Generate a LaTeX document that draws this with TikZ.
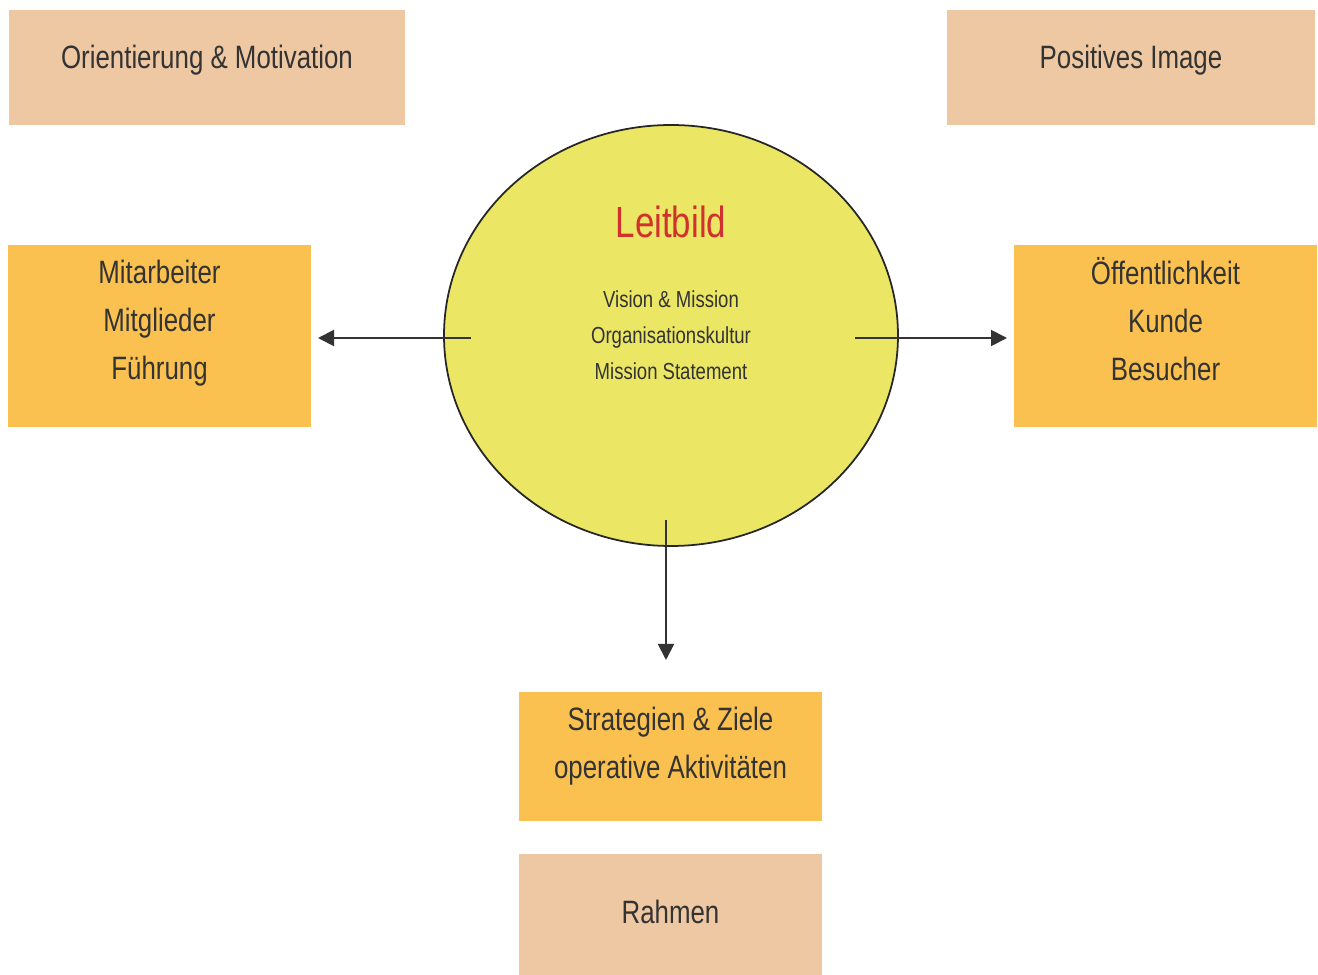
\documentclass[tikz,border=0pt]{standalone}
\usepackage{fontspec}
\setmainfont{Liberation Sans}[FakeStretch=0.8]
\usetikzlibrary{arrows.meta,positioning,shapes.geometric}
\definecolor{peach}{HTML}{EEC8A2}
\definecolor{amber}{HTML}{FAC150}
\definecolor{lemon}{HTML}{EBE664}
\definecolor{leitred}{HTML}{D0312D}
\definecolor{ink}{HTML}{333333}
\tikzset{
  peachbox/.style={rectangle, fill=peach, inner sep=0pt},
  amberbox/.style={rectangle, fill=amber, inner sep=0pt},
  boxtext/.style={text=ink, align=center, font=\fontsize{9.2}{13.7}\selectfont},
  smalltext/.style={text=ink, align=center, font=\fontsize{6.6}{10.3}\selectfont},
  leitarrow/.style={draw=ink, line width=0.55pt, -{Triangle[length=0.16cm,width=0.16cm]}}
}
\begin{document}
\begin{tikzpicture}
\useasboundingbox (0,0) rectangle (13.18,9.75);
%the boxes at the top
\node[peachbox, minimum width=3.96cm, minimum height=1.15cm] (orient) at (2.07,9.075) {};
\node[peachbox, minimum width=3.68cm, minimum height=1.15cm] (image) at (11.31,9.075) {};
%the boxes beside and below the circle
\node[amberbox, minimum width=3.03cm, minimum height=1.82cm] (mitarb) at (1.595,6.39) {};
\node[amberbox, minimum width=3.03cm, minimum height=1.82cm] (oeff) at (11.655,6.39) {};
\node[amberbox, minimum width=3.03cm, minimum height=1.29cm] (strat) at (6.705,2.185) {};
\node[peachbox, minimum width=3.03cm, minimum height=1.21cm] (rahmen) at (6.705,0.605) {};
%the circle
\node[ellipse, draw=black!85, line width=0.5pt, fill=lemon, minimum width=4.54cm, minimum height=4.21cm, inner sep=0pt] (leit) at (6.71,6.395) {};
\node[text=leitred, font=\fontsize{12.4}{15}\selectfont] (leittitle) at (6.71,7.53) {Leitbild};
\node[smalltext] (leitlist) at (6.71,6.40) {Vision \& Mission\\Organisationskultur\\Mission Statement};
%the texts in the boxes
\node[boxtext] (orienttext) at ([yshift=0.7mm]orient.center) {Orientierung \& Motivation};
\node[boxtext] (imagetext) at ([yshift=0.7mm]image.center) {Positives Image};
\node[boxtext] (mitarbtext) at ([yshift=1.3mm]mitarb.center) {Mitarbeiter\\Mitglieder\\Führung};
\node[boxtext] (oefftext) at ([yshift=1.7mm]oeff.center) {Öffentlichkeit\\Kunde\\Besucher};
\node[boxtext] (strattext) at ([yshift=1.0mm]strat.center) {Strategien \& Ziele\\operative Aktivitäten};
\node[boxtext] (rahmentext) at ([yshift=0.3mm]rahmen.center) {Rahmen};
%the arrows
\coordinate (lstart) at (4.71,6.37);
\coordinate (lend) at (3.18,6.37);
\coordinate (rstart) at (8.55,6.37);
\coordinate (rend) at (10.07,6.37);
\coordinate (dstart) at (6.66,4.55);
\coordinate (dend) at (6.66,3.15);
\draw[leitarrow] (lstart) -- (lend);
\draw[leitarrow] (rstart) -- (rend);
\draw[leitarrow] (dstart) -- (dend);
\end{tikzpicture}
\end{document}
